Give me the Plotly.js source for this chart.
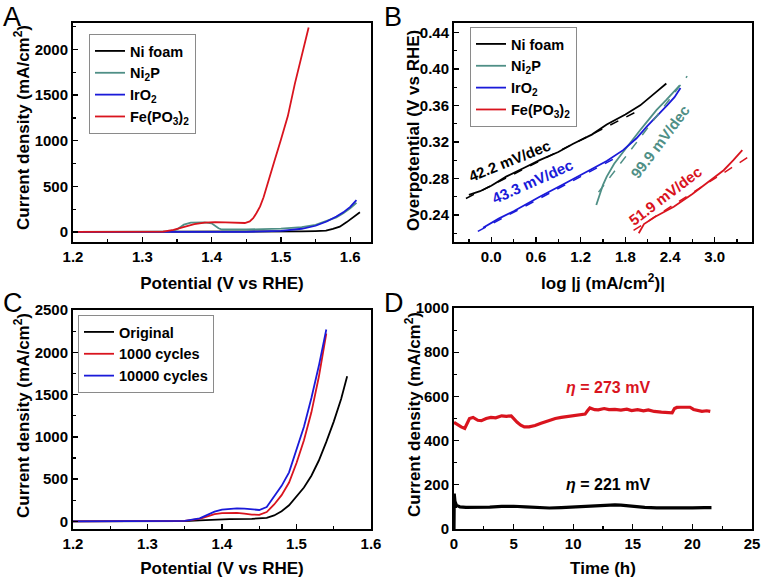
<!DOCTYPE html>
<html>
<head>
<meta charset="utf-8">
<script src="https://cdn.plot.ly/plotly-3.0.1.min.js"></script>
<style>html,body{margin:0;padding:0;background:#fff}#chart{width:762px;height:578px}</style>
</head>
<body>
<div id="chart"></div>
<script>
// ---------- Panel A : LSV curves ----------
const A_niFoam_x = [1.20,1.30,1.40,1.45,1.50,1.53,1.55,1.565,1.575,1.585,1.595,1.605,1.614];
const A_niFoam_y = [0,0,0,1,3,6,10,15,33,58,108,160,215];
const A_ni2p_x = [1.20,1.30,1.34,1.35,1.36,1.37,1.38,1.39,1.40,1.405,1.41,1.415,1.45,1.50,1.53,1.55,1.566,1.58,1.59,1.60,1.609];
const A_ni2p_y = [0,0,2,28,80,103,108,106,95,72,40,27,27,36,52,78,118,160,205,260,320];
const A_iro2_x = [1.20,1.40,1.45,1.50,1.53,1.55,1.566,1.58,1.59,1.60,1.609];
const A_iro2_y = [0,0,2,12,35,68,115,170,215,275,350];
const A_fepo_x = [1.20,1.30,1.33,1.345,1.36,1.375,1.39,1.405,1.42,1.435,1.448,1.455,1.46,1.465,1.47,1.475,1.48,1.49,1.50,1.51,1.52,1.53,1.54];
const A_fepo_y = [0,0,3,22,55,85,103,108,104,98,98,115,150,210,280,380,500,760,1010,1270,1620,1920,2240];

// ---------- Panel B : Tafel plots ----------
const B_niFoam_x = [-0.30,-0.15,0.0,0.20,0.45,0.65,0.90,1.10,1.35,1.55,1.80,2.00,2.22,2.35];
const B_niFoam_y = [0.262,0.266,0.272,0.282,0.292,0.300,0.309,0.318,0.328,0.339,0.350,0.360,0.375,0.384];
const B_niFoam_fit_x = [-0.34,2.02];
const B_niFoam_fit_y = [0.258,0.356];
const B_ni2p_x = [1.41,1.45,1.50,1.55,1.65,1.77,1.90,2.00,2.10,2.22,2.35,2.45,2.53];
const B_ni2p_y = [0.251,0.262,0.273,0.282,0.296,0.309,0.323,0.333,0.343,0.355,0.366,0.375,0.382];
const B_ni2p_fit_x = [1.44,2.63];
const B_ni2p_fit_y = [0.265,0.392];
const B_iro2_x = [-0.11,0.10,0.30,0.65,1.00,1.32,1.55,1.77,1.95,2.09,2.25,2.36,2.46,2.54];
const B_iro2_y = [0.226,0.236,0.244,0.260,0.275,0.289,0.299,0.311,0.324,0.337,0.350,0.360,0.369,0.379];
const B_iro2_fit_x = [-0.18,1.68];
const B_iro2_fit_y = [0.222,0.303];
const B_fepo_x = [1.98,2.05,2.20,2.45,2.70,2.90,3.12,3.25,3.37];
const B_fepo_y = [0.220,0.230,0.238,0.249,0.263,0.275,0.289,0.300,0.311];
const B_fepo_fit_x = [1.91,3.48];
const B_fepo_fit_y = [0.223,0.305];

// ---------- Panel C : durability LSV ----------
const C_orig_x = [1.20,1.30,1.35,1.37,1.39,1.41,1.44,1.46,1.47,1.48,1.49,1.50,1.51,1.52,1.53,1.54,1.55,1.56,1.568];
const C_orig_y = [0,0,3,12,22,27,30,42,70,120,190,291,400,540,720,940,1180,1450,1717];
const C_cyc_x = [1.20,1.30,1.35,1.37,1.38,1.39,1.40,1.41,1.42,1.43,1.44,1.45,1.46,1.47,1.48,1.49,1.50,1.51,1.52,1.53,1.54];
const C_1000_y = [0,0,5,30,60,85,98,102,100,92,80,78,110,200,310,460,690,960,1290,1710,2222];
const C_10000_y = [0,0,5,35,75,115,140,152,155,150,140,135,170,290,420,580,843,1120,1460,1840,2270];

// ---------- Panel D : chronoamperometry ----------
const D_red_x = [0,0.3,0.6,0.9,1.1,1.3,1.6,2.0,2.3,2.7,3.1,3.5,4.0,4.4,4.8,5.0,5.3,5.6,5.9,6.3,6.8,7.3,7.9,8.5,9.0,9.6,10.1,10.6,11.0,11.2,11.4,11.8,12.1,12.6,13.0,13.5,14.0,14.5,14.9,15.4,15.9,16.3,16.8,17.4,17.9,18.3,18.5,18.7,19.0,19.4,19.8,20.1,20.5,20.8,21.2,21.5];
const D_red_y = [483,472,462,455,480,500,505,492,490,500,505,503,512,510,512,500,483,470,462,462,468,478,490,500,505,510,515,516,520,535,548,540,539,545,540,541,538,542,536,540,535,539,532,529,528,526,545,550,551,552,551,541,535,532,535,532];
const D_blk_x = [0,0.02,0.08,0.2,0.5,1,2,3,4,5,6,7,8,9,10,11,12,13,13.5,14,15,16,17,18,19,20,21,21.6];
const D_blk_y = [0,160,125,108,100,98,98,99,102,103,100,97,95,97,100,104,106,108,109,108,102,98,96,95,95,96,97,97];

const BLACK = '#000000', TEAL = '#4f8f86', BLUE = '#1a1ad9', RED = '#d9141e';
const FONT = 'Liberation Sans, Arial, sans-serif';

function ln(x, y, color, name, xa, ya, legend, opts) {
  return Object.assign({
    type: 'scatter', mode: 'lines', x: x, y: y, name: name,
    xaxis: xa, yaxis: ya, legend: legend,
    line: {color: color, width: 1.8}, showlegend: true
  }, opts || {});
}

const traces = [
  ln(A_niFoam_x, A_niFoam_y, BLACK, 'Ni foam', 'x', 'y', 'legend'),
  ln(A_ni2p_x, A_ni2p_y, TEAL, 'Ni<sub>2</sub>P', 'x', 'y', 'legend'),
  ln(A_iro2_x, A_iro2_y, BLUE, 'IrO<sub>2</sub>', 'x', 'y', 'legend'),
  ln(A_fepo_x, A_fepo_y, RED, 'Fe(PO<sub>3</sub>)<sub>2</sub>', 'x', 'y', 'legend'),

  ln(B_niFoam_x, B_niFoam_y, BLACK, 'Ni foam', 'x2', 'y2', 'legend2'),
  ln(B_ni2p_x, B_ni2p_y, TEAL, 'Ni<sub>2</sub>P', 'x2', 'y2', 'legend2'),
  ln(B_iro2_x, B_iro2_y, BLUE, 'IrO<sub>2</sub>', 'x2', 'y2', 'legend2'),
  ln(B_fepo_x, B_fepo_y, RED, 'Fe(PO<sub>3</sub>)<sub>2</sub>', 'x2', 'y2', 'legend2'),
  ln(B_niFoam_fit_x, B_niFoam_fit_y, BLACK, 'fit1', 'x2', 'y2', 'legend2', {showlegend:false, line:{color:BLACK,width:1.5,dash:'dash'}}),
  ln(B_ni2p_fit_x, B_ni2p_fit_y, TEAL, 'fit2', 'x2', 'y2', 'legend2', {showlegend:false, line:{color:TEAL,width:1.5,dash:'dash'}}),
  ln(B_iro2_fit_x, B_iro2_fit_y, BLUE, 'fit3', 'x2', 'y2', 'legend2', {showlegend:false, line:{color:BLUE,width:1.5,dash:'dash'}}),
  ln(B_fepo_fit_x, B_fepo_fit_y, RED, 'fit4', 'x2', 'y2', 'legend2', {showlegend:false, line:{color:RED,width:1.5,dash:'dash'}}),

  ln(C_orig_x, C_orig_y, BLACK, 'Original', 'x3', 'y3', 'legend3'),
  ln(C_cyc_x, C_1000_y, RED, '1000 cycles', 'x3', 'y3', 'legend3'),
  ln(C_cyc_x, C_10000_y, BLUE, '10000 cycles', 'x3', 'y3', 'legend3'),

  ln(D_red_x, D_red_y, RED, 'red', 'x4', 'y4', 'legend', {showlegend:false, line:{color:RED,width:3.2}}),
  ln(D_blk_x, D_blk_y, BLACK, 'black', 'x4', 'y4', 'legend', {showlegend:false, line:{color:BLACK,width:3.2}})
];

const MINOR = {ticks: 'inside', ticklen: 3, tickwidth: 1.2, tickcolor: '#000', showgrid: false};
function ax(extra) {
  const o = Object.assign({
    showline: true, linecolor: '#000', linewidth: 2, mirror: true,
    ticks: 'inside', ticklen: 5, tickwidth: 1.4, tickcolor: '#000',
    showgrid: false, zeroline: false, automargin: false,
    tickfont: {family: FONT, size: 15, weight: 'bold', color: '#000'}
  }, extra);
  o.minor = Object.assign({}, MINOR, {dtick: extra.minorDtick});
  delete o.minorDtick;
  return o;
}
const TFONT = {family: FONT, size: 17, weight: 'bold', color: '#000'};
function ttl(text, standoff) {
  return {text: text, standoff: standoff, font: TFONT};
}
const W = 762, H = 578;
const px = v => v / W, py = v => 1 - v / H;

function leg(x, y) {
  return {x: px(x), y: py(y), xanchor: 'left', yanchor: 'top', bgcolor: '#fff',
    bordercolor: '#8a8a8a', borderwidth: 1, itemwidth: 30, tracegroupgap: 0,
    font: {family: FONT, size: 14.5, weight: 'bold', color: '#000'}};
}

const annFont = (c, s) => ({family: FONT, size: s || 15, weight: 'bold', color: c});
const letter = (t, x, y) => ({text: t, x: px(x), y: py(y), xref: 'paper', yref: 'paper', xanchor: 'left', yanchor: 'top', showarrow: false, font: {family: FONT, size: 27, color: '#000'}});
const ytitle = (t, x, y) => ({text: t, x: px(x), y: py(y), xref: 'paper', yref: 'paper', xanchor: 'center', yanchor: 'middle', textangle: -90, showarrow: false, font: TFONT});
const annotations = [
  letter('A', 1, 0), letter('B', 382, 0), letter('C', 1, 286), letter('D', 382, 286),
  ytitle('Current density (mA/cm<sup>2</sup>)', 22, 128),
  ytitle('Overpotential (V vs RHE)', 413, 131),
  ytitle('Current density (mA/cm<sup>2</sup>)', 22, 416),
  ytitle('Current density (mA/cm<sup>2</sup>)', 413, 415),
  {text: '42.2 mV/dec', x: 0.25, y: 0.300, xref: 'x2', yref: 'y2', showarrow: false, textangle: -22, font: annFont(BLACK)},
  {text: '43.3 mV/dec', x: 0.55, y: 0.277, xref: 'x2', yref: 'y2', showarrow: false, textangle: -24, font: annFont(BLUE)},
  {text: '99.9 mV/dec', x: 2.27, y: 0.320, xref: 'x2', yref: 'y2', showarrow: false, textangle: -53, font: annFont(TEAL)},
  {text: '51.9 mV/dec', x: 2.34, y: 0.261, xref: 'x2', yref: 'y2', showarrow: false, textangle: -37, font: annFont(RED)},
  {text: '<i>η</i> = 273 mV', x: 12.9, y: 640, xref: 'x4', yref: 'y4', showarrow: false, font: annFont(RED, 16)},
  {text: '<i>η</i> = 221 mV', x: 12.9, y: 202, xref: 'x4', yref: 'y4', showarrow: false, font: annFont(BLACK, 16)}
];

const layout = {
  width: W, height: H, margin: {l: 0, r: 0, t: 0, b: 0},
  paper_bgcolor: '#fff', plot_bgcolor: '#fff',
  xaxis: ax({domain: [px(73), px(371)], range: [1.2, 1.63], dtick: 0.1, tick0: 1.2, tickformat: '.1f', minorDtick: 0.05, anchor: 'y', title: ttl('Potential (V vs RHE)', 13)}),
  yaxis: ax({domain: [py(242), py(23)], range: [-110, 2290], dtick: 500, minorDtick: 250, anchor: 'x'}),
  xaxis2: ax({domain: [px(454), px(752)], range: [-0.5, 3.5], dtick: 0.6, tick0: 0, tickformat: '.1f', minorDtick: 0.3, anchor: 'y2', title: ttl('log |j (mA/cm<sup>2</sup>)|', 13)}),
  yaxis2: ax({domain: [py(242), py(23)], range: [0.2104, 0.4502], dtick: 0.04, tick0: 0, tickformat: '.2f', minorDtick: 0.02, anchor: 'x2'}),
  xaxis3: ax({domain: [px(73), px(371)], range: [1.2, 1.6], dtick: 0.1, tick0: 1.2, tickformat: '.1f', minorDtick: 0.05, anchor: 'y3', title: ttl('Potential (V vs RHE)', 12)}),
  yaxis3: ax({domain: [py(529), py(310)], range: [-90, 2500], dtick: 500, minorDtick: 250, anchor: 'x3'}),
  xaxis4: ax({domain: [px(454), px(752)], range: [0, 25], dtick: 5, minorDtick: 2.5, anchor: 'y4', title: ttl('Time (h)', 12)}),
  yaxis4: ax({domain: [py(529), py(308)], range: [0, 1000], dtick: 200, minorDtick: 100, anchor: 'x4'}),
  legend: leg(89, 34),
  legend2: leg(470, 27),
  legend3: leg(78, 315),
  annotations: annotations,
  showlegend: true
};

Plotly.newPlot('chart', traces, layout, {staticPlot: true, displayModeBar: false});
</script>
</body>
</html>
